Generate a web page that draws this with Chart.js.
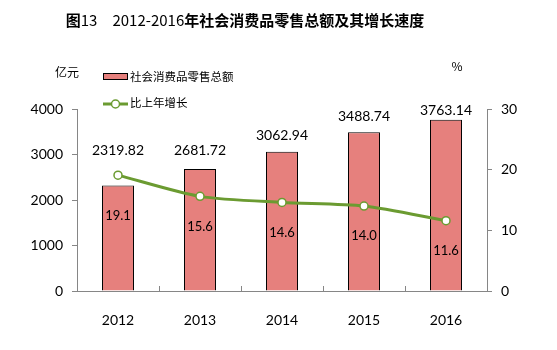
<!DOCTYPE html>
<html>
<head>
<meta charset="utf-8">
<script src="https://cdn.jsdelivr.net/npm/chart.js@4"></script>
<style>
  html, body { margin: 0; padding: 0; background: #fff; }
  #wrap { width: 557px; height: 350px; }
</style>
</head>
<body>
<div id="wrap"><canvas id="retailChart" width="557" height="350"></canvas></div>
<script>
const years = ['2012', '2013', '2014', '2015', '2016'];
const retailTotal = [2319.82, 2681.72, 3062.94, 3488.74, 3763.14];
const growthRate = [19.1, 15.6, 14.6, 14.0, 11.6];
const totalLabels = ['2319.82', '2681.72', '3062.94', '3488.74', '3763.14'];
const growthLabels = ['19.1', '15.6', '14.6', '14.0', '11.6'];

const barColor = '#E6807D';
const lineColor = '#6B9B31';
const axisColor = '#868686';
const numFont = 'Lato, "Liberation Sans", sans-serif';
const cjkFont = '"Noto Sans CJK SC", sans-serif';

// title, unit labels, legend and value labels
const decorPlugin = {
    id: 'decor',
    afterDraw(chart) {
        const c = chart.ctx;
        const area = chart.chartArea;
        const xs = chart.scales.x;
        const yl = chart.scales.y;
        const yr = chart.scales.y1;
        c.save();

        // title, mixed weight
        const parts = [['图', 'bold'], ['13　2012-2016', 'normal'], ['年社会消费品零售总额及其增长速度', 'bold']];
        let total = 0;
        parts.forEach(p => {
            c.font = p[1] + ' 15px ' + cjkFont;
            total += c.measureText(p[0]).width;
        });
        let tx = 245 - total / 2;
        c.fillStyle = '#000';
        c.textBaseline = 'middle';
        c.textAlign = 'left';
        parts.forEach(p => {
            c.font = p[1] + ' 15px ' + cjkFont;
            c.fillText(p[0], tx, 20);
            tx += c.measureText(p[0]).width;
        });

        // unit labels
        c.font = '12px ' + cjkFont;
        c.textAlign = 'center';
        c.fillText('亿元', 67, 72);
        c.fillText('%', 457, 66);

        // legend
        c.fillStyle = barColor;
        c.fillRect(103, 73, 25, 7);
        c.strokeStyle = '#000';
        c.lineWidth = 1;
        c.strokeRect(103.5, 73.5, 24, 6);
        c.strokeStyle = lineColor;
        c.lineWidth = 3;
        c.beginPath();
        c.moveTo(103, 104);
        c.lineTo(128, 104);
        c.stroke();
        c.fillStyle = '#fff';
        c.lineWidth = 1.5;
        c.beginPath();
        c.arc(115.5, 104, 4, 0, Math.PI * 2);
        c.fill();
        c.stroke();
        c.fillStyle = '#000';
        c.textAlign = 'left';
        c.font = '11.5px ' + cjkFont;
        c.fillText(chart.data.datasets[1].label, 130, 77);
        c.fillText(chart.data.datasets[0].label, 130, 103);

        // inside tick marks on the category axis
        c.strokeStyle = axisColor;
        c.lineWidth = 1;
        for (let i = 0; i < years.length - 1; i++) {
            const x = Math.round((xs.getPixelForValue(i) + xs.getPixelForValue(i + 1)) / 2) + 0.5;
            c.beginPath();
            c.moveTo(x, area.bottom);
            c.lineTo(x, area.bottom - 5);
            c.stroke();
        }

        // value labels above bars
        c.fillStyle = '#000';
        c.textAlign = 'center';
        c.font = '14px ' + numFont;
        retailTotal.forEach((v, i) => {
            const x = xs.getPixelForValue(i);
            let y = Math.min(yl.getPixelForValue(v) - 16, yl.getPixelForValue(3080));
            y = Math.max(y, area.top + 1);
            c.fillText(totalLabels[i], x, y);
        });

        // growth labels inside bars
        c.font = '13px ' + numFont;
        growthRate.forEach((v, i) => {
            const x = xs.getPixelForValue(i);
            const y = yr.getPixelForValue(v) + (i === 0 ? 41 : 30);
            c.fillText(growthLabels[i], x, y);
        });
        c.restore();
    }
};

new Chart(document.getElementById('retailChart'), {
    data: {
        labels: years,
        datasets: [
            {
                type: 'line',
                label: '比上年增长',
                data: growthRate,
                yAxisID: 'y1',
                borderColor: lineColor,
                borderWidth: 3,
                tension: 0.25,
                pointRadius: 4,
                pointBorderWidth: 1.5,
                pointBackgroundColor: '#fff',
                pointBorderColor: lineColor,
                order: 0
            },
            {
                type: 'bar',
                label: '社会消费品零售总额',
                data: retailTotal,
                yAxisID: 'y',
                backgroundColor: barColor,
                borderColor: '#000',
                borderWidth: 1,
                barPercentage: 0.39,
                categoryPercentage: 1,
                order: 1
            }
        ]
    },
    options: {
        responsive: false,
        animation: false,
        layout: { padding: { top: 109, left: 0, right: 0, bottom: 0 } },
        plugins: {
            legend: { display: false },
            title: { display: false },
            tooltip: { enabled: false }
        },
        scales: {
            x: {
                offset: true,
                grid: { display: false },
                border: { display: true, color: axisColor },
                ticks: { color: '#000', font: { family: numFont, size: 14 }, padding: 13 },
                afterFit(scale) { scale.height = 59; }
            },
            y: {
                position: 'left',
                min: 0,
                max: 4000,
                grid: { drawOnChartArea: false, drawTicks: true, tickLength: 5, color: axisColor },
                border: { color: axisColor },
                ticks: {
                    stepSize: 1000,
                    color: '#000',
                    font: { family: numFont, size: 14 },
                    padding: 9,
                    callback: v => String(v)
                },
                afterFit(scale) { scale.width = 77; }
            },
            y1: {
                position: 'right',
                min: 0,
                max: 30,
                grid: { drawOnChartArea: false, drawTicks: true, tickLength: 5, color: axisColor },
                border: { color: axisColor },
                ticks: {
                    stepSize: 10,
                    color: '#000',
                    font: { family: numFont, size: 14 },
                    padding: 9,
                    callback: v => String(v)
                },
                afterFit(scale) { scale.width = 70; }
            }
        }
    },
    plugins: [decorPlugin]
});
</script>
</body>
</html>
